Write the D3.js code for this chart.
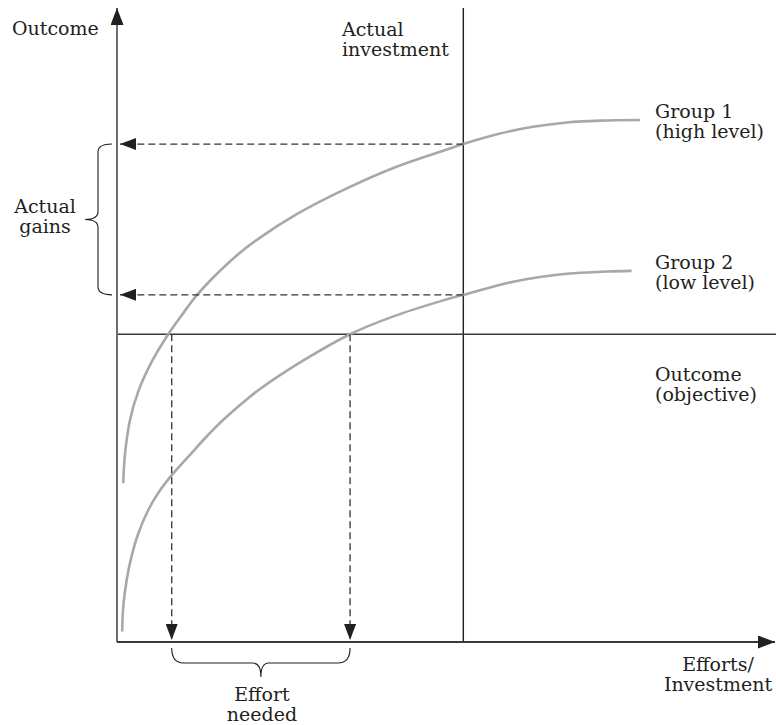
<!DOCTYPE html>
<html>
<head>
<meta charset="utf-8">
<script src="https://cdn.jsdelivr.net/npm/d3@7"></script>
<style>
  body { margin: 0; background: #fff; }
  text { font-family: "DejaVu Serif", serif; font-size: 19px; fill: #231f20; }
</style>
</head>
<body>
<div id="chart"></div>
<script>
// Effort (x) vs outcome (y) for the two groups
const group1Effort  = [0.18, 0.23, 0.38, 0.62, 1.00, 1.48, 1.87, 2.30, 2.83, 3.50, 4.13, 5.19, 6.53, 7.98, 9.42, 10.0, 11.06, 12.01, 12.99, 13.95, 15.10];
const group1Outcome = [2.58, 3.05, 3.62, 4.08, 4.55, 5.00, 5.31, 5.63, 5.95, 6.30, 6.57, 6.95, 7.34, 7.70, 7.98, 8.09, 8.26, 8.37, 8.44, 8.47, 8.48];
const group2Effort  = [0.15, 0.18, 0.28, 0.42, 0.62, 0.90, 1.19, 1.58, 2.06, 2.54, 3.07, 3.70, 4.13, 5.37, 6.73, 7.98, 9.42, 10.0, 11.25, 12.21, 13.18, 14.14, 14.86];
const group2Outcome = [0.17, 0.57, 1.01, 1.39, 1.77, 2.14, 2.42, 2.71, 3.01, 3.31, 3.61, 3.92, 4.11, 4.57, 5.00, 5.29, 5.55, 5.64, 5.83, 5.93, 5.99, 6.02, 6.03];

const actualInvestment = 10;       // vertical line
const objective = 5;               // horizontal line
const gains = [8.09, 5.64];        // outcome of each group at actual investment
const effortNeeded = [1.58, 6.73]; // effort each group needs to reach objective

const width = 776, height = 725;

const svg = d3.select('#chart').append('svg')
    .attr('width', width)
    .attr('height', height);

const x = d3.scaleLinear().domain([0, 19]).range([117, 775]);
const y = d3.scaleLinear().domain([0, 10.3]).range([642, 8]);

// arrowheads
const defs = svg.append('defs');
function marker(id, len, wid) {
    defs.append('marker')
        .attr('id', id)
        .attr('viewBox', `0 0 ${len} ${wid}`)
        .attr('refX', len).attr('refY', wid / 2)
        .attr('markerWidth', len).attr('markerHeight', wid)
        .attr('markerUnits', 'userSpaceOnUse')
        .attr('orient', 'auto')
        .append('path')
        .attr('d', `M0,0L${len},${wid / 2}L0,${wid}Z`)
        .attr('fill', '#231f20');
}
marker('axisArrow', 17, 13);
marker('dashArrow', 16, 12);

// reference lines
svg.append('line')
    .attr('x1', x(actualInvestment)).attr('x2', x(actualInvestment))
    .attr('y1', y(10.3)).attr('y2', y(0))
    .attr('stroke', '#231f20').attr('stroke-width', 1.4);
svg.append('line')
    .attr('x1', x(0)).attr('x2', width)
    .attr('y1', y(objective)).attr('y2', y(objective))
    .attr('stroke', '#3a3a3a').attr('stroke-width', 1.6);

// axes
svg.append('line')
    .attr('x1', x(0)).attr('x2', x(0))
    .attr('y1', y(0)).attr('y2', y(10.3))
    .attr('stroke', '#6e6e6e').attr('stroke-width', 2)
    .attr('marker-end', 'url(#axisArrow)');
svg.append('line')
    .attr('x1', x(0)).attr('x2', x(19))
    .attr('y1', y(0)).attr('y2', y(0))
    .attr('stroke', '#3a3a3a').attr('stroke-width', 1.8)
    .attr('marker-end', 'url(#axisArrow)');

// curves
const line = d3.line()
    .x(d => x(d[0]))
    .y(d => y(d[1]))
    .curve(d3.curveCatmullRom.alpha(0.5));

[[group1Effort, group1Outcome], [group2Effort, group2Outcome]].forEach(([ex, oy]) => {
    svg.append('path')
        .datum(ex.map((e, i) => [e, oy[i]]))
        .attr('d', line)
        .attr('fill', 'none')
        .attr('stroke', '#a8a8a8')
        .attr('stroke-width', 2.6);
});

// dashed arrows
const dash = '7,4';
gains.forEach(g => {
    svg.append('line')
        .attr('x1', x(actualInvestment)).attr('x2', x(0) + 3)
        .attr('y1', y(g)).attr('y2', y(g))
        .attr('stroke', '#333').attr('stroke-width', 1.3)
        .attr('stroke-dasharray', dash)
        .attr('marker-end', 'url(#dashArrow)');
});
effortNeeded.forEach(e => {
    svg.append('line')
        .attr('x1', x(e)).attr('x2', x(e))
        .attr('y1', y(objective)).attr('y2', y(0) - 2)
        .attr('stroke', '#333').attr('stroke-width', 1.3)
        .attr('stroke-dasharray', dash)
        .attr('marker-end', 'url(#dashArrow)');
});

// braces
const r = 8;
function vBrace(xe, xs, xt, y1, y2) {
    const ym = (y1 + y2) / 2;
    return `M${xe},${y1}Q${xs},${y1} ${xs},${y1 + r}L${xs},${ym - r}Q${xs},${ym} ${xt},${ym}` +
           `Q${xs},${ym} ${xs},${ym + r}L${xs},${y2 - r}Q${xs},${y2} ${xe},${y2}`;
}
function hBrace(ye, ys, yt, x1, x2) {
    const xm = (x1 + x2) / 2;
    return `M${x1},${ye}Q${x1},${ys} ${x1 + r + 4},${ys}L${xm - r},${ys}Q${xm},${ys} ${xm},${yt}` +
           `Q${xm},${ys} ${xm + r},${ys}L${x2 - r - 4},${ys}Q${x2},${ys} ${x2},${ye}`;
}
svg.append('path')
    .attr('d', vBrace(x(0) - 5, 98, 85, y(gains[0]), y(gains[1])))
    .attr('fill', 'none').attr('stroke', '#231f20').attr('stroke-width', 1.1);
svg.append('path')
    .attr('d', hBrace(648, 663, 677, x(effortNeeded[0]), x(effortNeeded[1])))
    .attr('fill', 'none').attr('stroke', '#231f20').attr('stroke-width', 1.1);

// labels
function label(lines, px, py, anchor) {
    const t = svg.append('text')
        .attr('x', px).attr('y', py)
        .attr('text-anchor', anchor || 'start');
    lines.forEach((s, i) => {
        t.append('tspan').attr('x', px).attr('dy', i === 0 ? 0 : 19.5).text(s);
    });
}
label(['Outcome'], 12, 35);
label(['Actual', 'investment'], 342, 36);
label(['Group 1', '(high level)'], 655, 118);
label(['Group 2', '(low level)'], 655, 269);
label(['Outcome', '(objective)'], 655, 381);
label(['Actual', 'gains'], 45, 213, 'middle');
label(['Effort', 'needed'], 262, 701, 'middle');
label(['Efforts/', 'Investment'], 718, 671, 'middle');
</script>
</body>
</html>
